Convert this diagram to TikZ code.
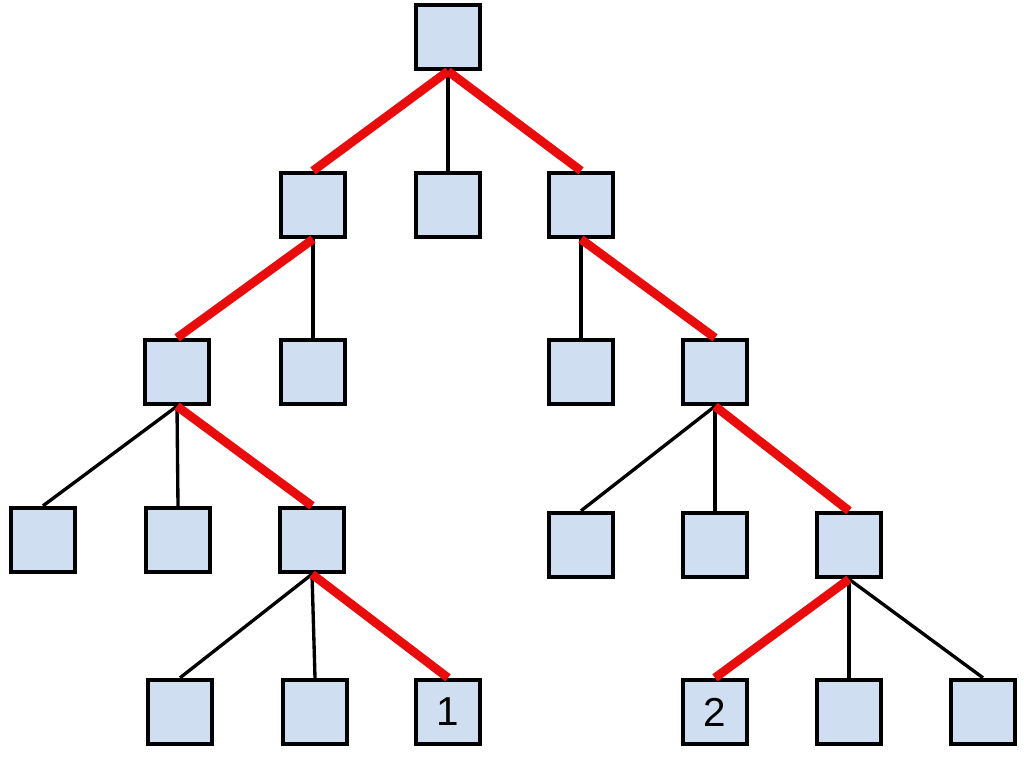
\documentclass[tikz,border=0pt]{standalone}
\usepackage{fontspec}
\setmainfont{Liberation Sans}
\definecolor{boxblue}{RGB}{207,223,241}
\definecolor{pathred}{RGB}{232,12,12}
\tikzset{
  tnode/.style={draw=black, line width=2.5pt, fill=boxblue, minimum size=1.28cm,
    inner sep=0pt, font=\fontsize{23}{27}\selectfont},
  edge/.style={draw=black, line width=1.9pt},
  hotedge/.style={draw=pathred, line width=5pt}
}
\begin{document}
\begin{tikzpicture}[x=0.02cm, y=-0.02cm]
        \useasboundingbox (0,0) rectangle (1024,760);

        % Draw the tree nodes
        \node[tnode] (r) at (448, 37) {};

        \node[tnode] (a) at (313, 205) {};
        \node[tnode] (b) at (448, 205) {};
        \node[tnode] (c) at (581, 205) {};

        \node[tnode] (aa) at (177, 372) {};
        \node[tnode] (ab) at (313, 372) {};
        \node[tnode] (ca) at (581, 372) {};
        \node[tnode] (cb) at (715, 372) {};

        \node[tnode] (aaa) at (43, 540) {};
        \node[tnode] (aab) at (178, 540) {};
        \node[tnode] (aac) at (312, 540) {};
        \node[tnode] (cba) at (581, 545) {};
        \node[tnode] (cbb) at (715, 545) {};
        \node[tnode] (cbc) at (849, 545) {};

        \node[tnode] (aaca) at (180, 712) {};
        \node[tnode] (aacb) at (315, 712) {};
        \node[tnode] (aacc) at (448, 712) {\raisebox{-0.2ex}{1}};
        \node[tnode] (cbca) at (715, 712) {2};
        \node[tnode] (cbcb) at (849, 712) {};
        \node[tnode] (cbcc) at (983, 712) {};

        % Add the plain edges
        \foreach \p/\q in {r/b, a/ab, c/ca, aa/aaa, aa/aab, aac/aaca, aac/aacb,
                           cb/cba, cb/cbb, cbc/cbcb, cbc/cbcc}
          \draw[edge] (\p.south) -- (\q.north);

        % Add the two red paths
        \foreach \p/\q in {r/a, a/aa, aa/aac, aac/aacc,
                           r/c, c/cb, cb/cbc, cbc/cbca}
          \draw[hotedge] (\p.south) -- (\q.north);
\end{tikzpicture}
\end{document}
